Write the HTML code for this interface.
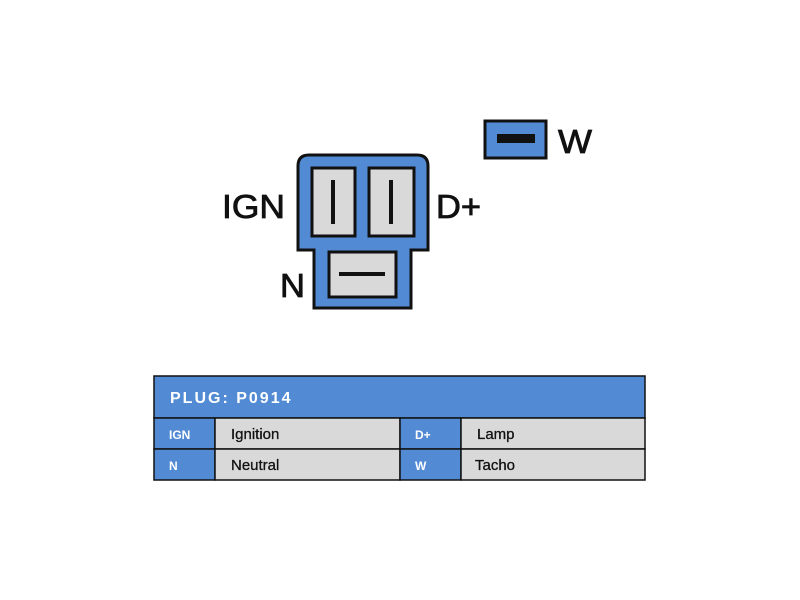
<!DOCTYPE html>
<html><head><style>body{margin:0;background:#fff}svg{display:block}</style></head>
<body>
<svg width="800" height="600" xmlns="http://www.w3.org/2000/svg" font-family="'Liberation Sans',sans-serif">
<rect width="800" height="600" fill="#fff"/>
<path d="M298,250 V166 Q298,155 309,155 H417 Q428,155 428,166 V250 H411 V308 H314 V250 Z" fill="#528bd4" stroke="#111" stroke-width="3"/>
<rect x="312" y="168" width="43" height="68" fill="#d9d9d9" stroke="#111" stroke-width="3"/>
<rect x="369" y="168" width="45" height="68" fill="#d9d9d9" stroke="#111" stroke-width="3"/>
<line x1="333" y1="180" x2="333" y2="224" stroke="#111" stroke-width="4"/>
<line x1="391" y1="180" x2="391" y2="224" stroke="#111" stroke-width="4"/>
<rect x="329" y="252" width="67" height="45" fill="#d9d9d9" stroke="#111" stroke-width="3"/>
<line x1="339" y1="274" x2="385" y2="274" stroke="#111" stroke-width="4"/>
<rect x="485" y="121" width="61" height="37" fill="#528bd4" stroke="#111" stroke-width="3"/>
<rect x="497" y="134" width="38" height="9" fill="#111"/>
<g font-size="33" fill="#111" stroke="#111" stroke-width="0.8">
<text x="222" y="218" textLength="63" lengthAdjust="spacingAndGlyphs">IGN</text>
<text x="436" y="218" textLength="45" lengthAdjust="spacingAndGlyphs">D+</text>
<text x="280" y="297" textLength="25" lengthAdjust="spacingAndGlyphs">N</text>
<text x="558" y="153" textLength="34" lengthAdjust="spacingAndGlyphs">W</text>
</g>
<rect x="154" y="376" width="491" height="42" fill="#528bd4" stroke="#111" stroke-width="1.5"/>
<text x="170" y="403" font-size="16" font-weight="bold" fill="#fff" letter-spacing="2">PLUG: P0914</text>
<g stroke="#111" stroke-width="1.5">
<rect x="154" y="418" width="61" height="31" fill="#528bd4"/>
<rect x="215" y="418" width="185" height="31" fill="#d9d9d9"/>
<rect x="400" y="418" width="61" height="31" fill="#528bd4"/>
<rect x="461" y="418" width="184" height="31" fill="#d9d9d9"/>
<rect x="154" y="449" width="61" height="31" fill="#528bd4"/>
<rect x="215" y="449" width="185" height="31" fill="#d9d9d9"/>
<rect x="400" y="449" width="61" height="31" fill="#528bd4"/>
<rect x="461" y="449" width="184" height="31" fill="#d9d9d9"/>
</g>
<g font-size="12" fill="#fff" font-weight="bold"><text x="169" y="439">IGN</text><text x="415" y="439">D+</text><text x="169" y="470">N</text><text x="415" y="470">W</text></g>
<g font-size="15" fill="#111" stroke="#111" stroke-width="0.3"><text x="231" y="439">Ignition</text><text x="477" y="439">Lamp</text><text x="231" y="470">Neutral</text><text x="475" y="470">Tacho</text></g>
</svg>
</body></html>
